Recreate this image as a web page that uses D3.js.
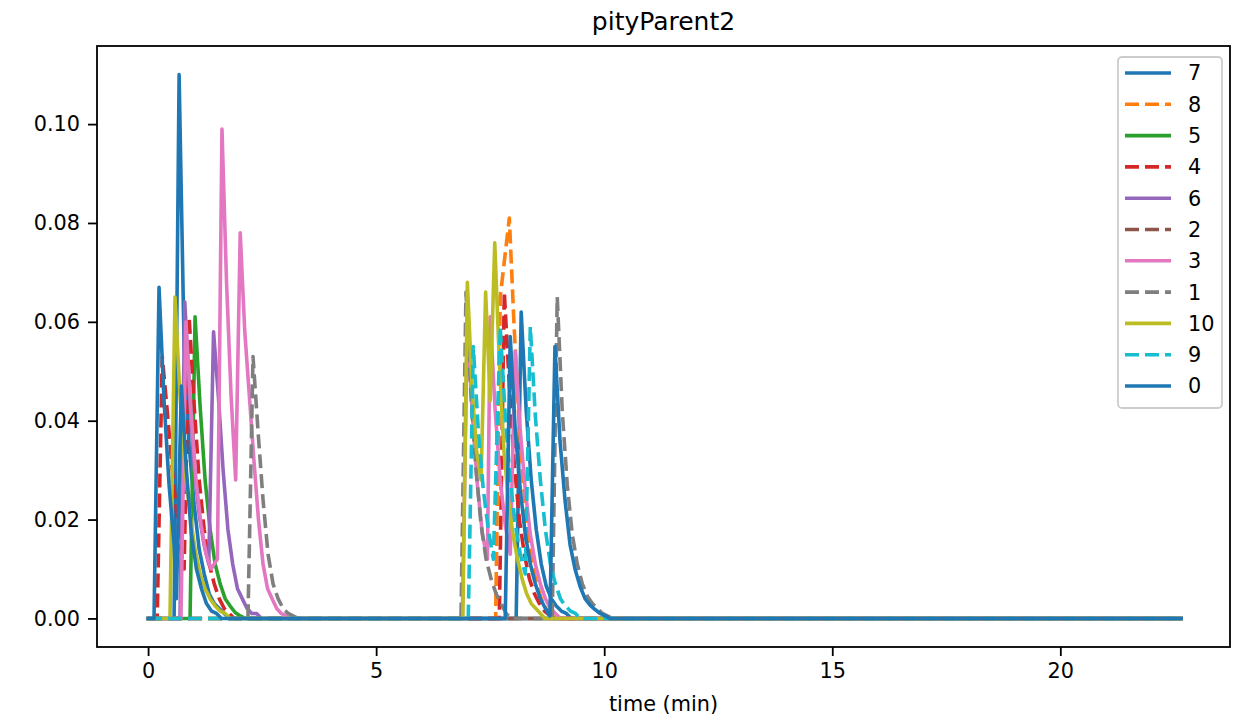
<!DOCTYPE html>
<html>
<head>
<meta charset="utf-8">
<script src="https://cdn.jsdelivr.net/npm/d3@7"></script>
<style>
  html, body { margin: 0; padding: 0; background: #fff; }
  svg { display: block; font-family: "DejaVu Sans", sans-serif; }
</style>
</head>
<body>
<svg id="chart" width="1234" height="721"></svg>
<script>
// ---- data (time in minutes; each segment = [startTime, sampleStep, values]) ----
const seriesLabels = ["7", "8", "5", "4", "6", "2", "3", "1", "10", "9", "0"];
const seriesColors = ["#1f77b4", "#ff7f0e", "#2ca02c", "#d62728", "#9467bd", "#8c564b", "#e377c2", "#7f7f7f", "#bcbd22", "#17becf", "#1f77b4"];
const seriesDashed = [false, true, false, true, false, true, false, true, false, true, false];
const xTicks = [0, 5, 10, 15, 20];
const yTicks = [0, 0.02, 0.04, 0.06, 0.08, 0.10];
const tStart = 0, tEnd = 22.65;

const s7 = [
  [0.57, 0.11, [0, 0.11, 0.055, 0.035, 0.023, 0.014, 0.009, 0.005, 0.003, 0.002, 0.001, 0]],
  [8.07, 0.11, [0, 0.062, 0.042, 0.028, 0.018, 0.011, 0.0065, 0.004, 0.0025, 0.0015, 0.001, 0]]
];
const s8 = [
  [7.62, 0.10, [0, 0.065, 0.073, 0.081, 0.06, 0.042, 0.028, 0.018, 0.011, 0.007, 0.004, 0.002, 0.001, 0]]
];
const s5 = [
  [0.92, 0.11, [0, 0.061, 0.043, 0.028, 0.018, 0.011, 0.007, 0.004, 0.0025, 0.0012, 0.0005, 0]]
];
const s4 = [
  [0.20, 0.11, [0, 0.053, 0.042, 0.03, 0.02, 0.012]],
  [0.79, 0.11, [0.01, 0.061, 0.043, 0.028, 0.018, 0.011, 0.007, 0.004, 0.002, 0.001, 0]],
  [7.70, 0.11, [0, 0.066, 0.047, 0.031, 0.02, 0.013, 0.008, 0.005, 0.003, 0.0015, 0.0007, 0]]
];
const s6 = [
  [0.70, 0.105, [0, 0.064, 0.045, 0.03, 0.021, 0.015, 0.011, 0.058, 0.045, 0.03, 0.018, 0.011, 0.006, 0.004, 0.002, 0.001, 0.001, 0]]
];
const s2 = [];
const s3 = [
  [0.72, 0.11, [0, 0.06, 0.042, 0.028, 0.019, 0.013, 0.01]],
  [1.52, 0.10, [0.012, 0.099, 0.068, 0.045, 0.028, 0.078, 0.058, 0.045, 0.032, 0.02, 0.011, 0.006, 0.004, 0.002, 0.001, 0.0005, 0]],
  [6.89, 0.11, [0, 0.06, 0.041, 0.027, 0.017, 0.012]],
  [7.50, 0.11, [0.061, 0.042, 0.028, 0.019, 0.013, 0.054, 0.038, 0.026, 0.017, 0.011, 0.007, 0.004, 0.002, 0.001, 0]]
];
const s1 = [
  [2.19, 0.11, [0, 0.053, 0.038, 0.024, 0.013, 0.007, 0.004, 0.002, 0.001, 0.0005, 0]],
  [6.86, 0.11, [0, 0.066, 0.045, 0.03, 0.019, 0.012, 0.008, 0.005, 0.003, 0.001, 0]],
  [8.86, 0.11, [0, 0.065, 0.042, 0.027, 0.017, 0.011, 0.007, 0.0045, 0.003, 0.002, 0.001, 0.0005, 0]]
];
const s10 = [
  [0.48, 0.11, [0, 0.065, 0.045, 0.03, 0.021, 0.014, 0.009, 0.006, 0.004, 0.0025, 0.0015, 0.001, 0]],
  [6.90, 0.10, [0, 0.068, 0.047, 0.034, 0.028, 0.066, 0.044, 0.076, 0.052, 0.034, 0.024, 0.017, 0.012, 0.008, 0.005, 0.003, 0.002, 0.001, 0]]
];
const s9 = [
  [7.02, 0.11, [0, 0.055, 0.038, 0.026, 0.018, 0.012]],
  [7.72, 0.11, [0.059, 0.041, 0.028, 0.019, 0.013, 0.009, 0.059, 0.041, 0.028, 0.018, 0.011, 0.007, 0.004, 0.0025, 0.0015, 0.001, 0]]
];
const s0 = [
  [0.13, 0.11, [0, 0.067, 0.044, 0.027, 0.015]],
  [0.62, 0.11, [0.004, 0.047, 0.03, 0.017, 0.01, 0.006, 0.003, 0.0015, 0.001, 0]],
  [7.83, 0.11, [0, 0.057, 0.038, 0.026, 0.017, 0.011, 0.007, 0.004, 0.002]],
  [8.81, 0.11, [0.0005, 0.055, 0.036, 0.024, 0.015, 0.01, 0.0065, 0.004, 0.0027, 0.0018, 0.001, 0.0005, 0]]
];
const seriesSegments = [s7, s8, s5, s4, s6, s2, s3, s1, s10, s9, s0];

// ---- build points ----
function buildPoints(segs) {
  const pts = [[tStart, 0]];
  segs.forEach(([t0, dt, vals]) => vals.forEach((v, i) => pts.push([t0 + i * dt, v])));
  pts.push([tEnd, 0]);
  return pts;
}

// ---- layout ----
const svg = d3.select("#chart");
const L = 97, R = 1230, T = 46, B = 647;
const x = d3.scaleLinear().domain([-1.12, 23.72]).range([L, R]);
const y = d3.scaleLinear().domain([-0.00578, 0.1158]).range([B, T]);

const clipId = "plotclip";
svg.append("clipPath").attr("id", clipId)
  .append("rect").attr("x", L).attr("y", T).attr("width", R - L).attr("height", B - T);

const line = d3.line().x(d => x(d[0])).y(d => y(d[1]));
const plot = svg.append("g").attr("clip-path", `url(#${clipId})`);
seriesSegments.forEach((segs, i) => {
  plot.append("path")
    .datum(buildPoints(segs))
    .attr("d", line)
    .attr("fill", "none")
    .attr("stroke", seriesColors[i])
    .attr("stroke-width", 3.6)
    .attr("stroke-linejoin", "round")
    .attr("stroke-linecap", seriesDashed[i] ? "butt" : "square")
    .attr("stroke-dasharray", seriesDashed[i] ? "14,6" : null);
});

// ---- axes ----
const xAxis = d3.axisBottom(x).tickValues(xTicks).tickFormat(d3.format("d")).tickSize(9).tickPadding(7);
const yAxis = d3.axisLeft(y).tickValues(yTicks).tickFormat(d3.format(".2f")).tickSize(9).tickPadding(8);
const gx = svg.append("g").attr("transform", `translate(0,${B})`).call(xAxis);
const gy = svg.append("g").attr("transform", `translate(${L},0)`).call(yAxis);
[gx, gy].forEach(g => {
  g.select(".domain").remove();
  g.selectAll(".tick line").attr("stroke", "#000").attr("stroke-width", 1.8);
  g.selectAll(".tick text").attr("fill", "#000").style("font-size", "20.8px").style("font-family", "DejaVu Sans");
});

// frame
svg.append("rect").attr("x", L).attr("y", T).attr("width", R - L).attr("height", B - T)
  .attr("fill", "none").attr("stroke", "#000").attr("stroke-width", 1.8);

// title & labels
svg.append("text").attr("x", (L + R) / 2).attr("y", 30).attr("text-anchor", "middle")
  .style("font-size", "25px").text("pityParent2");
svg.append("text").attr("x", (L + R) / 2).attr("y", 711).attr("text-anchor", "middle")
  .style("font-size", "20.8px").text("time (min)");

// ---- legend ----
const lg = svg.append("g");
lg.append("rect").attr("x", 1118).attr("y", 57).attr("width", 104).attr("height", 351)
  .attr("rx", 4).attr("fill", "#fff").attr("fill-opacity", 0.8)
  .attr("stroke", "#cccccc").attr("stroke-width", 1.8);
seriesLabels.forEach((lab, i) => {
  const yy = 73 + i * 31.3;
  lg.append("line").attr("x1", 1125).attr("x2", 1171).attr("y1", yy).attr("y2", yy)
    .attr("stroke", seriesColors[i]).attr("stroke-width", 3.6)
    .attr("stroke-dasharray", seriesDashed[i] ? "14,6" : null);
  lg.append("text").attr("x", 1188).attr("y", yy).attr("dy", "0.36em")
    .style("font-size", "20.8px").text(lab);
});
</script>
</body>
</html>
